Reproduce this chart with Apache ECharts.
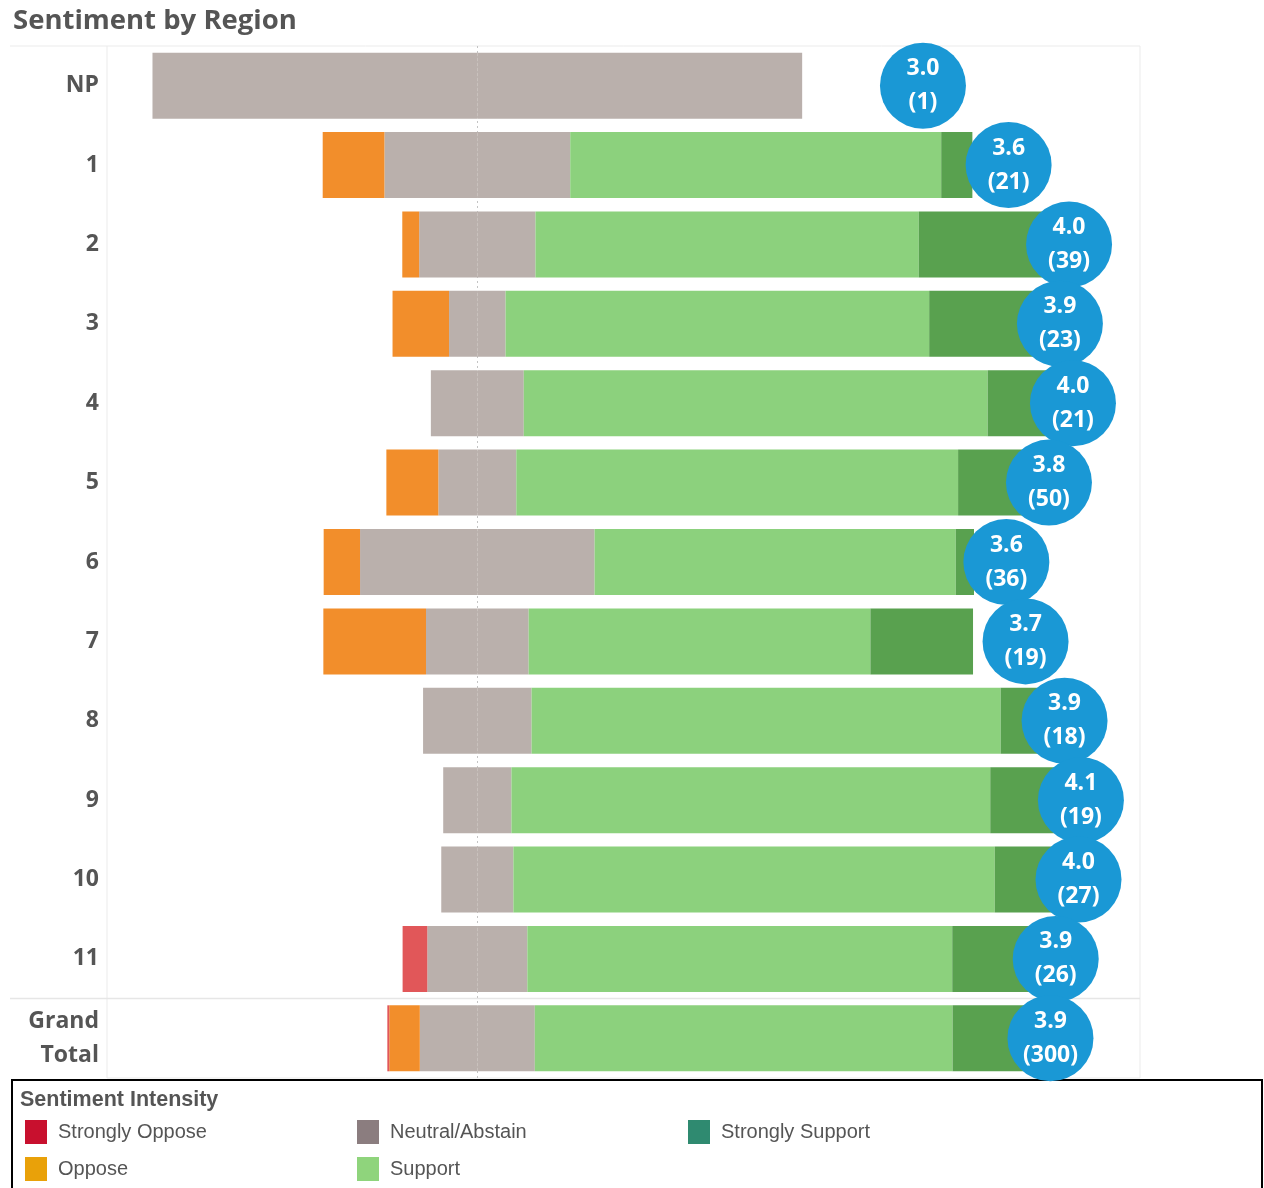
<!DOCTYPE html>
<html>
<head>
<meta charset="utf-8">
<script src="https://cdn.jsdelivr.net/npm/echarts@6/dist/echarts.min.js"></script>
<style>
html,body{margin:0;padding:0;background:#fff;}
#chart{width:1264px;height:1188px;}
</style>
</head>
<body>
<div id="chart"></div>
<script>
// ---- data (percent of respondents per region) ----
var categories = ['NP','1','2','3','4','5','6','7','8','9','10','11','Grand\nTotal'];
var stronglyOppose  = [0, 0, 0, 0, 0, 0, 0, 0, 0, 0, 0, 3.8, 0.3];
var oppose          = [0, 9.5, 2.6, 8.7, 0, 8.0, 5.6, 15.8, 0, 0, 0, 0, 4.7];
var neutral         = [100, 28.6, 17.9, 8.7, 14.3, 12.0, 36.1, 15.8, 16.7, 10.5, 11.1, 15.4, 17.7];
var support         = [0, 57.1, 59.0, 65.2, 71.4, 68.0, 55.6, 52.6, 72.2, 73.7, 74.1, 65.4, 64.3];
var stronglySupport = [0, 4.8, 20.5, 17.4, 14.3, 12.0, 2.8, 15.8, 11.1, 15.8, 14.8, 15.4, 13.0];
var avgScore        = [3.000, 3.571, 3.974, 3.913, 4.000, 3.840, 3.556, 3.684, 3.944, 4.053, 4.037, 3.885, 3.850];
var avgLabels       = ['3.0','3.6','4.0','3.9','4.0','3.8','3.6','3.7','3.9','4.1','4.0','3.9','3.9'];
var respondents     = [1, 21, 39, 23, 21, 50, 36, 19, 18, 19, 27, 26, 300];

var neg = function(a){ return a.map(function(v){ return -v; }); };
var halfNeg = neutral.map(function(v){ return -v/2; });
var halfPos = neutral.map(function(v){ return v/2; });

var C = {so:'#e15759', op:'#f28e2b', ne:'#bab0ac', su:'#8cd17d', ss:'#59a14f', dot:'#1a98d5'};
var txt = '#555555';

var chart = echarts.init(document.getElementById('chart'));
var barCommon = {type:'bar', stack:'s', barWidth:66, xAxisIndex:0, yAxisIndex:0, z:2,
                 emphasis:{disabled:true}, silent:true};
var legendCommon = {orient:'vertical', itemWidth:22, itemHeight:24, itemGap:13, icon:'rect',
     selectedMode:false, padding:0, height:90,
     textStyle:{fontFamily:'Liberation Sans', fontSize:20, color:txt, padding:[0,0,0,6]}};

var option = {
  animation:false,
  backgroundColor:'#ffffff',
  title:[
    {text:'Sentiment by Region', left:8, top:2,
     textStyle:{fontFamily:'Open Sans', fontWeight:'bold', fontSize:27.5, color:txt}},
    {text:'Sentiment Intensity', left:15, top:1084,
     textStyle:{fontFamily:'Liberation Sans', fontWeight:'bold', fontSize:21.5, color:txt}}
  ],
  grid:{left:107, top:46, width:1033, height:1032, show:true, borderColor:'#ebebeb', borderWidth:1},
  xAxis:[
    {type:'value', min:-57, max:102, show:false},
    {type:'value', min:-2.44, max:4.447, show:false}
  ],
  yAxis:{type:'category', inverse:true, data:categories,
    axisLine:{show:false}, axisTick:{show:false}, splitLine:{show:false},
    axisLabel:{margin:8, fontFamily:'Open Sans', fontWeight:'bold', fontSize:23, color:txt,
               lineHeight:34, align:'right'}},
  legend:[
    Object.assign({}, legendCommon, {left:25, top:1120,
     data:[{name:'Strongly Oppose', itemStyle:{color:'#c8102e'}},
           {name:'Oppose', itemStyle:{color:'#e9a109'}}]}),
    Object.assign({}, legendCommon, {left:357, top:1120,
     data:[{name:'Neutral/Abstain', itemStyle:{color:'#8b7d7f'}},
           {name:'Support', itemStyle:{color:'#8fd47c'}}]}),
    Object.assign({}, legendCommon, {left:688, top:1120,
     data:[{name:'Strongly Support', itemStyle:{color:'#2f8a70'}}]})
  ],
  graphic:[
    {type:'line', shape:{x1:10, y1:46, x2:107, y2:46}, style:{stroke:'#ebebeb', lineWidth:1}, silent:true},
    {type:'line', shape:{x1:10, y1:998.5, x2:1140, y2:998.5}, style:{stroke:'#e6e6e6', lineWidth:1.5}, silent:true, z:1},
    {type:'rect', shape:{x:12, y:1080, width:1250, height:112}, style:{fill:'none', stroke:'#000', lineWidth:2}, silent:true}
  ],
  series:[
    Object.assign({}, barCommon, {name:'Neutral/Abstain', data:halfNeg, itemStyle:{color:C.ne},
      markLine:{silent:true, symbol:['none','none'], z:1, label:{show:false},
        lineStyle:{color:'#c4c4c4', type:[2,3], width:1}, data:[{xAxis:0}]}}),
    Object.assign({}, barCommon, {name:'Oppose', data:neg(oppose), itemStyle:{color:C.op}}),
    Object.assign({}, barCommon, {name:'Strongly Oppose', data:neg(stronglyOppose), itemStyle:{color:C.so}}),
    Object.assign({}, barCommon, {name:'Neutral/Abstain', data:halfPos, itemStyle:{color:C.ne}}),
    Object.assign({}, barCommon, {name:'Support', data:support, itemStyle:{color:C.su}}),
    Object.assign({}, barCommon, {name:'Strongly Support', data:stronglySupport, itemStyle:{color:C.ss}}),
    {type:'scatter', name:'Average', xAxisIndex:1, yAxisIndex:0, z:5, silent:true,
     symbol:'circle', symbolSize:86, itemStyle:{color:C.dot, opacity:1},
     data:avgScore,
     label:{show:true, position:'inside', color:'#ffffff', fontFamily:'Open Sans', fontWeight:'bold',
            fontSize:23, lineHeight:34,
            formatter:function(p){ return avgLabels[p.dataIndex] + '\n(' + respondents[p.dataIndex] + ')'; }}}
  ]
};
chart.setOption(option);
</script>
</body>
</html>
